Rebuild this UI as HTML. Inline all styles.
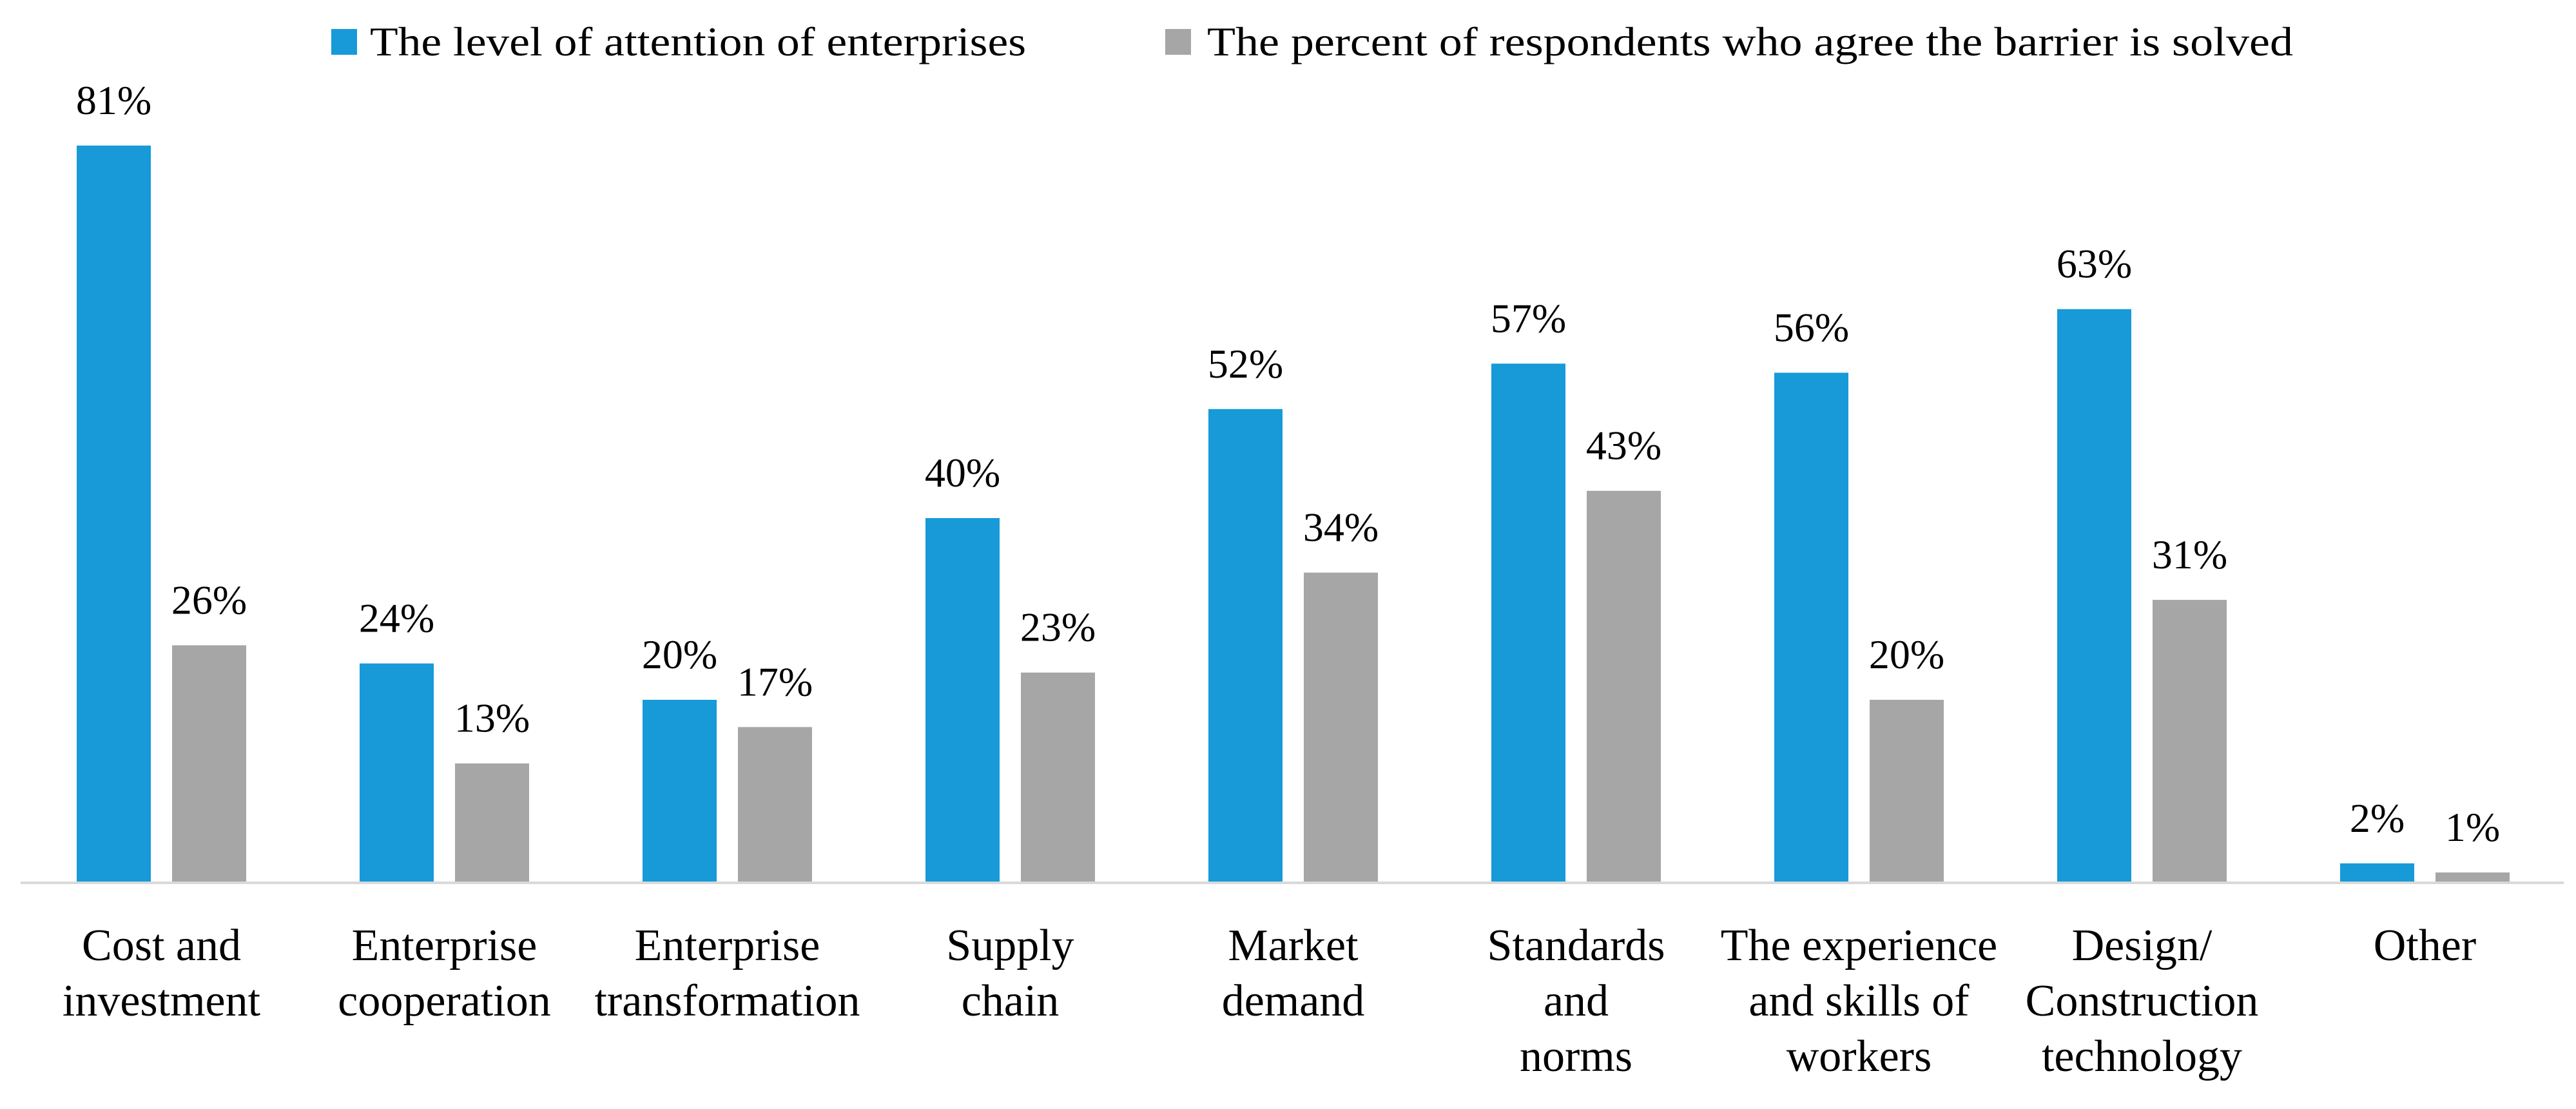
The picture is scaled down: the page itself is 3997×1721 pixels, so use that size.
<!DOCTYPE html>
<html><head><meta charset="utf-8"><style>
html,body{margin:0;padding:0;background:#fff;}
svg{display:block;font-family:"Liberation Serif",serif;}
</style></head><body>
<svg id="chart" width="3997" height="1721" viewBox="0 0 3997 1721" xmlns="http://www.w3.org/2000/svg">
<g>
<rect x="514" y="45" width="40" height="40" fill="#179ad7"/>
<text x="574" y="86" font-size="64" textLength="1018" lengthAdjust="spacingAndGlyphs" fill="#000">The level of attention of enterprises</text>
<rect x="1808" y="45" width="40" height="40" fill="#a6a6a6"/>
<text x="1873" y="86" font-size="64" textLength="1685" lengthAdjust="spacingAndGlyphs" fill="#000">The percent of respondents who agree the barrier is solved</text>
</g>
<line x1="32" y1="1370" x2="3978" y2="1370" stroke="#d9d9d9" stroke-width="4"/>
<g id="bars"></g>
<g id="labels"></g>
</svg>
<script>
const categories = [["Cost and","investment"],["Enterprise","cooperation"],["Enterprise","transformation"],["Supply","chain"],["Market","demand"],["Standards","and","norms"],["The experience","and skills of","workers"],["Design/","Construction","technology"],["Other"]];
const attention = [81,24,20,40,52,57,56,63,2];
const solved = [26,13,17,23,34,43,20,31,1];

const NS = "http://www.w3.org/2000/svg";
const baseY = 1368, pxPer = 14.1, x0 = 119, pitch = 439, barW = 115, off2 = 148;
const yScale = v => baseY - v * pxPer;
const xGroup = i => x0 + i * pitch;
const barsG = document.getElementById('bars');
const labG = document.getElementById('labels');
function mk(tag, attrs){const e=document.createElementNS(NS,tag);for(const k in attrs)e.setAttribute(k,attrs[k]);return e;}
function drawSeries(vals, offset, color, nm){
  vals.forEach((v,i)=>{
    const x = xGroup(i)+offset, y = yScale(v);
    const r = mk('rect',{x:x,y:y,width:barW,height:baseY-y,fill:color});
    
    
    barsG.appendChild(r);
    const t = mk('text',{x:x+barW/2,y:y-49,'text-anchor':'middle','font-size':64,fill:'#000'});
    
    
    t.textContent = v+'%';
    barsG.appendChild(t);
  });
}
drawSeries(attention, 0, '#179ad7', 'attention');
drawSeries(solved, off2, '#a6a6a6', 'solved');
categories.forEach((lines,i)=>{
  const cx = xGroup(i) + (off2+barW)/2;
  lines.forEach((ln,j)=>{
    const t = mk('text',{x:cx,y:1490+j*86,'text-anchor':'middle','font-size':70,fill:'#000'});
    
    
    t.textContent = ln;
    labG.appendChild(t);
  });
});
</script>
</body></html>
